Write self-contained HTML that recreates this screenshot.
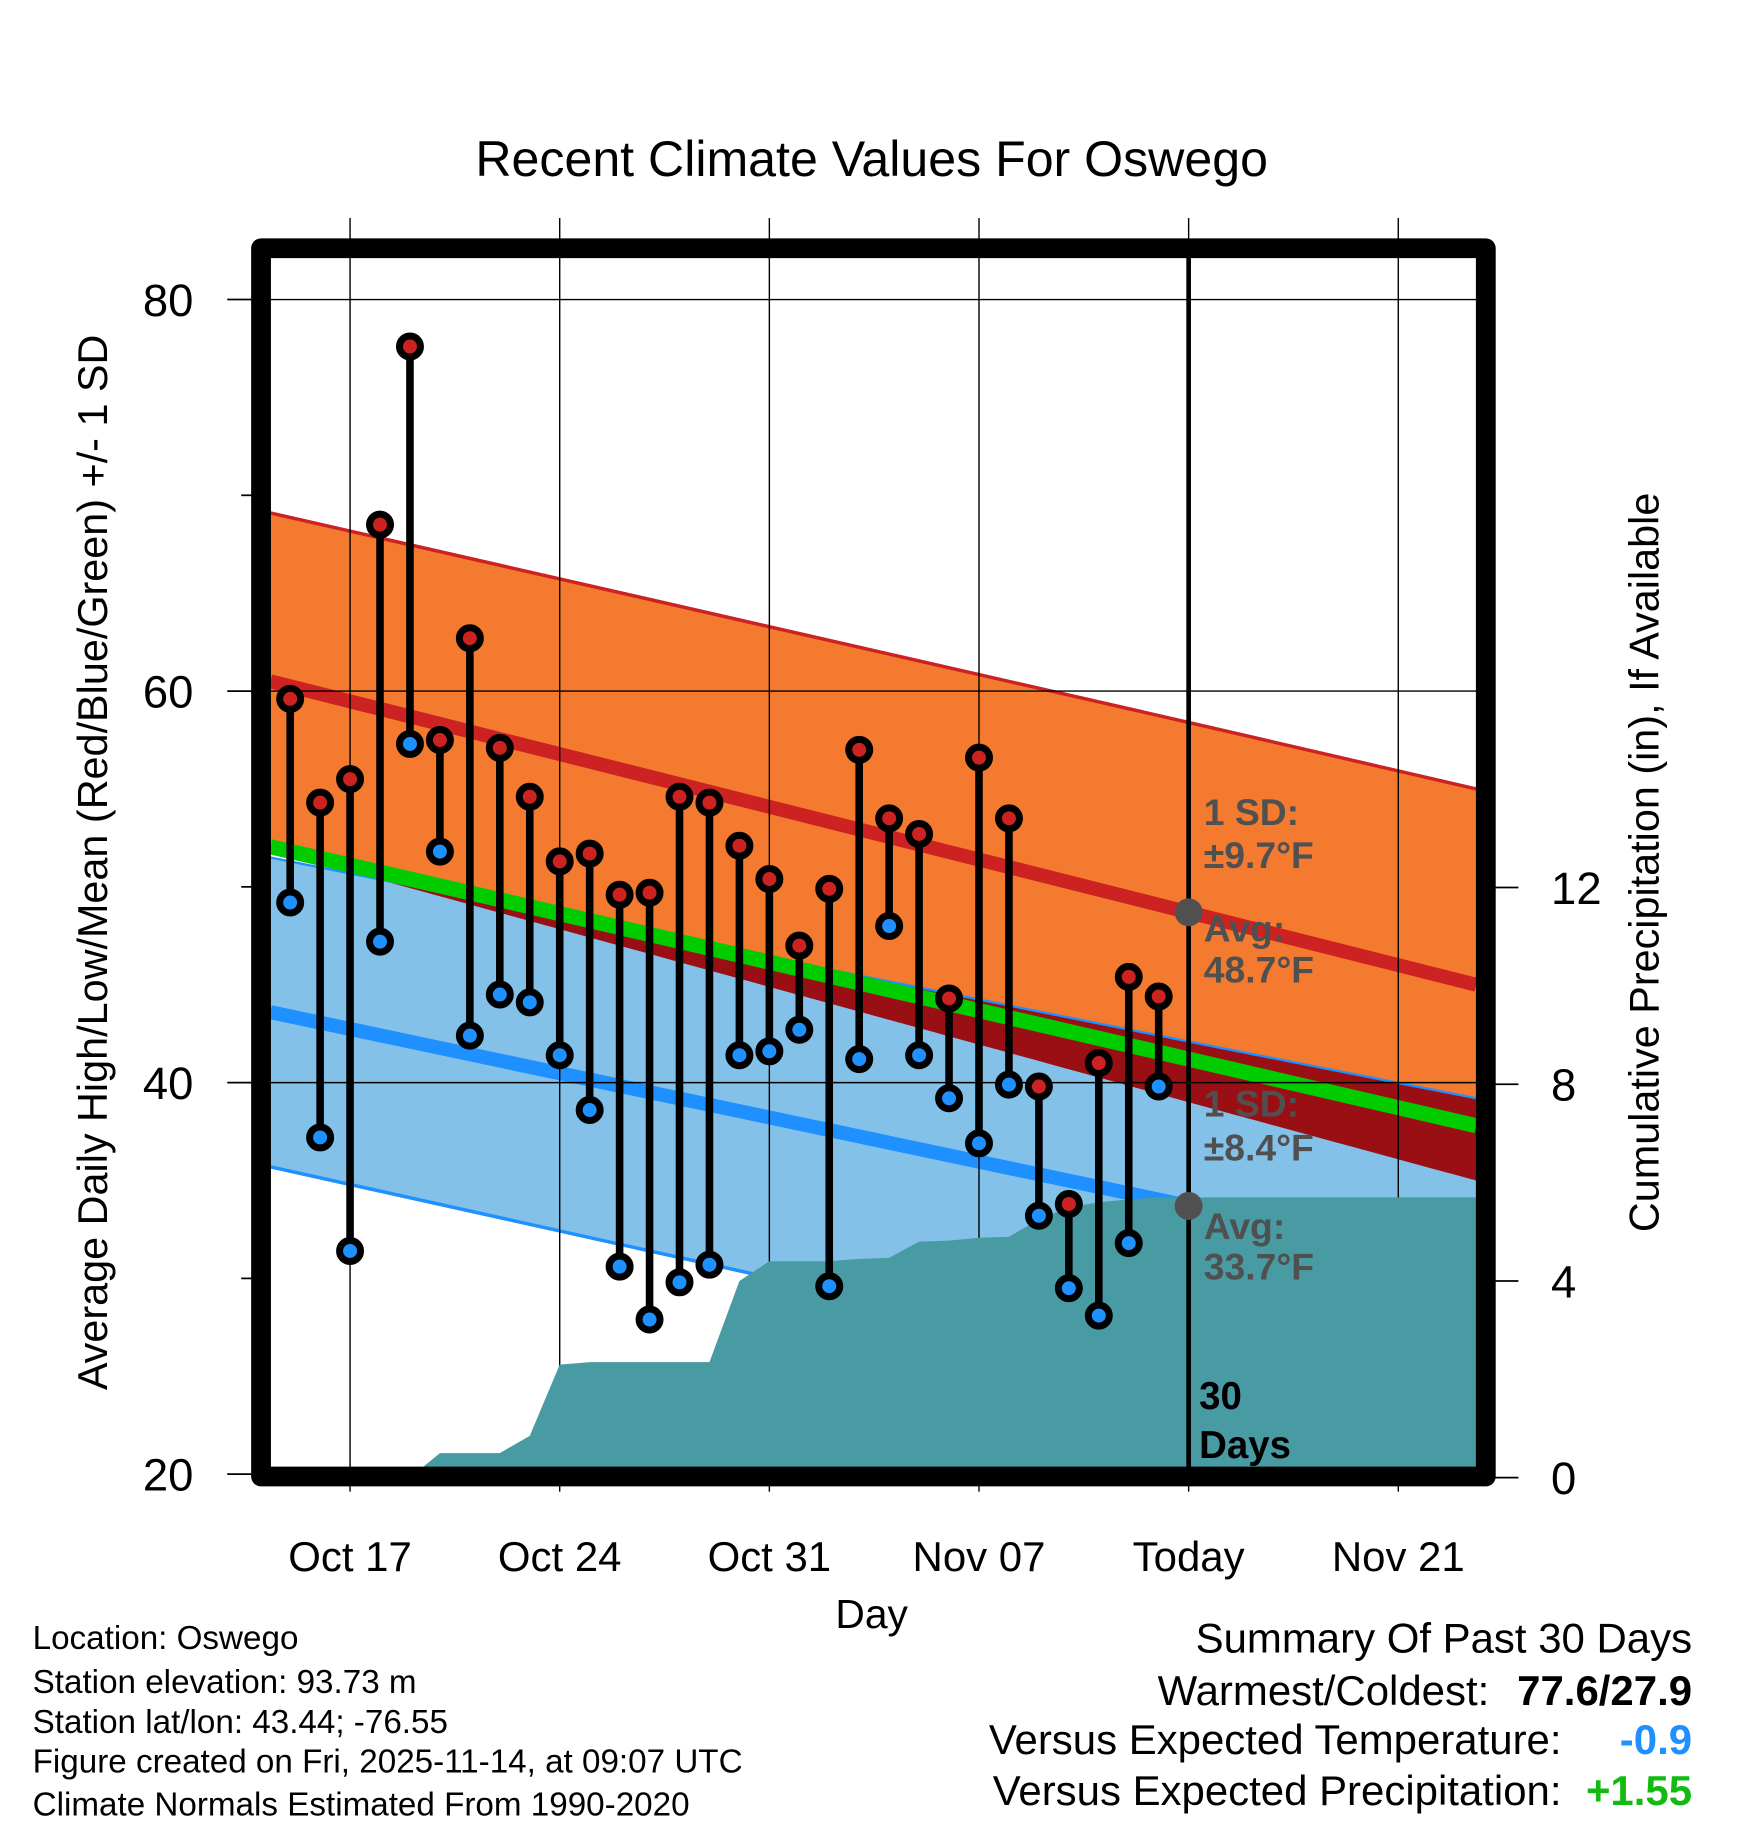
<!DOCTYPE html>
<html><head><meta charset="utf-8">
<style>
html,body{margin:0;padding:0;background:#fff;}
svg{display:block;font-family:"Liberation Sans",sans-serif;}
</style></head>
<body>
<svg id="chart" width="1748" height="1828" viewBox="0 0 1500 1568.6" xmlns="http://www.w3.org/2000/svg">
<text x="748" y="151" font-size="43" text-anchor="middle">Recent Climate Values For Oswego</text>
<g id="plot"></g>
<g id="axes"></g>
<text transform="translate(92,740) rotate(-90)" font-size="35.5" text-anchor="middle">Average Daily High/Low/Mean (Red/Blue/Green) +/- 1 SD</text>
<text transform="translate(1423,740) rotate(-90)" font-size="35.5" text-anchor="middle">Cumulative Precipitation (in), If Available</text>
<text x="748" y="1397" font-size="35" text-anchor="middle">Day</text>
<g font-size="28.5">
<text x="28" y="1415">Location: Oswego</text>
<text x="28" y="1453">Station elevation: 93.73 m</text>
<text x="28" y="1487">Station lat/lon: 43.44; -76.55</text>
<text x="28" y="1521">Figure created on Fri, 2025-11-14, at 09:07 UTC</text>
<text x="28" y="1558">Climate Normals Estimated From 1990-2020</text>
</g>
<g font-size="36" text-anchor="end">
<text x="1452" y="1418">Summary Of Past 30 Days</text>
<text x="1278" y="1463">Warmest/Coldest:</text>
<text x="1452" y="1463" font-weight="bold">77.6/27.9</text>
<text x="1340" y="1505">Versus Expected Temperature:</text>
<text x="1452" y="1505" font-weight="bold" fill="#1e90ff">-0.9</text>
<text x="1340" y="1549">Versus Expected Precipitation:</text>
<text x="1452" y="1549" font-weight="bold" fill="#11bb11">+1.55</text>
</g>
</svg>
<script>
const highs=[59.6,54.3,55.5,68.5,77.6,57.5,62.7,57.1,54.6,51.3,51.7,49.6,49.7,54.6,54.3,52.1,50.4,47.0,49.9,57.0,53.5,52.7,44.3,56.6,53.5,39.8,33.8,41.0,45.4,44.4];
const lows=[49.2,37.2,31.4,47.2,57.3,51.8,42.4,44.5,44.1,41.4,38.6,30.6,27.9,29.8,30.7,41.4,41.6,42.7,29.6,41.2,48.0,41.4,39.2,36.9,39.9,33.2,29.5,28.1,31.8,39.8];
const precip=[0,0,0,0,0,0.5,0.5,0.5,0.85,2.3,2.35,2.35,2.35,2.35,2.35,4.0,4.4,4.4,4.4,4.45,4.47,4.8,4.82,4.88,4.9,5.25,5.5,5.6,5.66,5.7];
const normDays=[-0.66,30,39.6];
const normHigh=[60.5,48.7,45.0];
const highSD=[8.6,9.7,10.0];
const normLow=[43.6,33.7,30.6];
const lowSD=[7.9,8.4,8.6];
const yTicks=[20,40,60,80];
const y2Ticks=[0,4,8,12];
const xTickDays=[2,9,16,23,30,37];
const xTickLabels=["Oct 17","Oct 24","Oct 31","Nov 07","Today","Nov 21"];
const todayIdx=30;

const NS="http://www.w3.org/2000/svg";
const L=232,R=1267,T=221,B=1259;
const xS=d=>249+25.7*d;
const yS=t=>257+(80-t)*16.8;
const y2S=p=>1268-42.2*p;
function mk(tag,attrs,parent){const e=document.createElementNS(NS,tag);for(const k in attrs)e.setAttribute(k,attrs[k]);parent.appendChild(e);return e;}
function interp(arr,d){for(let i=0;i<normDays.length-1;i++){if(d<=normDays[i+1]||i==normDays.length-2){const f=(d-normDays[i])/(normDays[i+1]-normDays[i]);return arr[i]+f*(arr[i+1]-arr[i]);}}}
const plot=document.getElementById('plot'),axes=document.getElementById('axes');
const dL=normDays[0],dR=normDays[normDays.length-1];
const ds=[dL,normDays[1],dR];
function band(fTop,fBot,fill,name){
  let pts=ds.map(d=>xS(d)+","+yS(fTop(d))).concat(ds.slice().reverse().map(d=>xS(d)+","+yS(fBot(d))));
  const e=mk('polygon',{points:pts.join(' '),fill:fill},plot);
  
  
}
function line(f,stroke,w,name){
  const e=mk('polyline',{points:ds.map(d=>xS(d)+","+yS(f(d))).join(' '),fill:'none',stroke:stroke,'stroke-width':w},plot);
  
  
}
const hi=d=>interp(normHigh,d),hsd=d=>interp(highSD,d),lo=d=>interp(normLow,d),lsd=d=>interp(lowSD,d);
band(d=>hi(d)+hsd(d),d=>hi(d)-hsd(d),'#f47a30','high-sd-band');
band(d=>lo(d)+lsd(d),d=>lo(d)-lsd(d),'#84c1e8','low-sd-band');
{
  const N=60;let top=[],bot=[];
  for(let i=0;i<=N;i++){const d=dL+(dR-dL)*i/N;const a=lo(d)+lsd(d),b=hi(d)-hsd(d);
    top.push(xS(d)+","+yS(a));bot.push(xS(d)+","+yS(Math.min(a,b)));}
  const e=mk('polygon',{points:top.concat(bot.reverse()).join(' '),fill:'#990f14'},plot);
  
  
}
line(d=>hi(d)+hsd(d),'#cc2222',3,'high-sd-upper-edge');
line(d=>lo(d)+lsd(d),'#1e90ff',2,'low-sd-upper-edge');
line(d=>lo(d)-lsd(d),'#1e90ff',3,'low-sd-lower-edge');
line(d=>(hi(d)+lo(d))/2,'#00cc00',13,'normal-mean-line');
line(hi,'#cc2222',12,'normal-high-line');
line(lo,'#1e90ff',12,'normal-low-line');
for(const t of yTicks){if(t==20)continue;const e=mk('line',{x1:L,x2:R,y1:yS(t),y2:yS(t),stroke:'#000','stroke-width':1.2},plot);
  
  }
xTickDays.forEach(d=>{const e=mk('line',{x1:xS(d),x2:xS(d),y1:187,y2:1280,stroke:'#000','stroke-width':1.2},plot);
  
  });
{
  let pts=[L+","+y2S(0)];
  precip.forEach((p,i)=>pts.push(xS(i)+","+y2S(p)));
  pts.push(R+","+y2S(precip[precip.length-1]));pts.push(R+","+B);pts.push(L+","+B);
  const e=mk('polygon',{points:pts.join(' '),fill:'#489aa3'},plot);
  
  
}
{const e=mk('line',{x1:xS(todayIdx),x2:xS(todayIdx),y1:T,y2:B,stroke:'#000','stroke-width':4},plot);

}
highs.forEach((h,i)=>{
  const x=xS(i);
  const s=mk('line',{x1:x,x2:x,y1:yS(h),y2:yS(lows[i]),stroke:'#000','stroke-width':6.5},plot);
  
  
  const a=mk('circle',{cx:x,cy:yS(h),r:9,fill:'#cc2222',stroke:'#000','stroke-width':6},plot);
  
  
  const b=mk('circle',{cx:x,cy:yS(lows[i]),r:9,fill:'#1e90ff',stroke:'#000','stroke-width':6},plot);
  
  
});
[hi(todayIdx),lo(todayIdx)].forEach(v=>{const c=mk('circle',{cx:xS(todayIdx),cy:yS(v),r:12,fill:'#505050'},plot);
  
  });
const ann=[["1 SD:",708],["\u00b19.7\u00b0F",745],["Avg:",808],["48.7\u00b0F",843],["1 SD:",958],["\u00b18.4\u00b0F",996],["Avg:",1063],["33.7\u00b0F",1098]];
ann.forEach(a=>{const t=mk('text',{x:1033,y:a[1],'font-size':32,'font-weight':'bold',fill:'#505050'},plot);t.textContent=a[0];
  
  });
[["30",1209],["Days",1251]].forEach(a=>{const t=mk('text',{x:1029,y:a[1],'font-size':33,'font-weight':'bold',fill:'#000'},plot);t.textContent=a[0];
  
  });
{const f=mk('rect',{x:224,y:213,width:1051,height:1054,fill:'none',stroke:'#000','stroke-width':17,'stroke-linejoin':'round'},axes);

}
[20,30,40,50,60,70,80].forEach(t=>{const major=yTicks.includes(t);
  const e=mk('line',{x1:major?195:207,x2:216,y1:yS(t),y2:yS(t),stroke:'#000','stroke-width':1.5},axes);
  
  });
yTicks.forEach(t=>{const e=mk('text',{x:166,y:yS(t)+14,'font-size':39,'text-anchor':'end'},axes);e.textContent=t;
  
  });
y2Ticks.forEach(p=>{const e=mk('line',{x1:1283,x2:1303,y1:y2S(p),y2:y2S(p),stroke:'#000','stroke-width':1.5},axes);
  
  
  const t=mk('text',{x:1331,y:y2S(p)+14,'font-size':39},axes);t.textContent=p;
  
  });
xTickDays.forEach((d,i)=>{const t=mk('text',{x:xS(d),y:1348,'font-size':36,'text-anchor':'middle'},axes);t.textContent=xTickLabels[i];
  
  });
</script>
</body></html>
